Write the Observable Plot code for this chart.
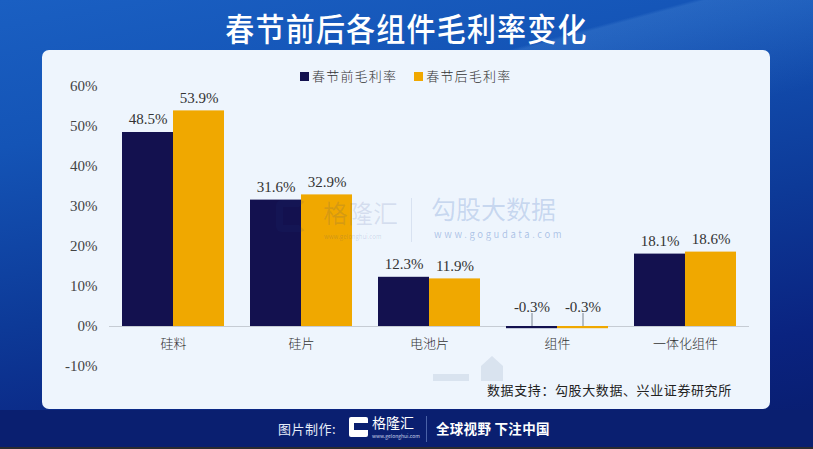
<!DOCTYPE html>
<html><head><meta charset="utf-8">
<script src="https://cdn.jsdelivr.net/npm/d3@7"></script>
<script src="https://cdn.jsdelivr.net/npm/@observablehq/plot@0.6"></script>
<style>
html,body{margin:0;padding:0;}
body{width:813px;height:449px;overflow:hidden;position:relative;font-family:"Noto Sans CJK SC",sans-serif;
background:linear-gradient(170deg,#1a5fc2 0%,#1454b6 25%,#0d3a98 55%,#0a2380 80%,#081c6c 100%);}
#streak{position:absolute;left:0;top:0;width:813px;height:120px;
background:linear-gradient(165deg,rgba(255,255,255,0) 0%,rgba(255,255,255,0) 55%,rgba(120,180,240,0.18) 56%,rgba(120,180,240,0.10) 70%,rgba(255,255,255,0) 90%);}
#title{position:absolute;left:0;width:813px;top:7px;text-align:center;color:#fff;font-size:29px;font-weight:500;letter-spacing:1.2px;line-height:40px;transform:scaleY(1.08);}
#panel{position:absolute;left:42px;top:50px;width:728px;height:359px;background:#eef5fd;border-radius:7px;overflow:hidden;}
#chart{position:absolute;left:0;top:0;}
#legend{position:absolute;top:66px;left:300px;font-size:13px;color:#333;letter-spacing:1.2px;white-space:nowrap;font-weight:300;}
#legend span.sw{display:inline-block;width:9px;height:9px;margin-right:3px;vertical-align:0px;}
#legend span.item{margin-right:17px;}
#source{position:absolute;left:487px;top:380px;font-size:13px;color:#222;letter-spacing:0.6px;white-space:nowrap;}
.wm{position:absolute;white-space:nowrap;line-height:1;}
#footer{position:absolute;left:0;top:410px;width:813px;height:37px;background:#0a1f70;}
#strip{position:absolute;left:0;top:447px;width:813px;height:2px;background:#2b2b30;}
#f1{position:absolute;left:278px;top:419px;color:#e6ecf8;font-size:13px;letter-spacing:0.5px;}
#logo{position:absolute;left:349px;top:417px;width:19px;height:20px;background:#fff;border-radius:2px;}
#logo2{position:absolute;left:354px;top:423px;width:14px;height:7px;background:#0a1f70;}
#f2{position:absolute;left:372px;top:414px;color:#fff;font-size:14px;line-height:16px;}
#f2u{position:absolute;left:372px;top:433px;color:#c8d2ea;font-size:5px;line-height:5px;}
#fsep{position:absolute;left:426px;top:416px;width:1px;height:26px;background:#4a62a8;}
#f3{position:absolute;left:436px;top:418px;color:#fff;font-size:13.5px;font-weight:700;letter-spacing:0.3px;}
</style></head><body>
<div id="streak"></div>
<div id="title">春节前后各组件毛利率变化</div>
<div id="panel">
  <div id="chart"></div>
  <div class="wm" style="left:234px;top:150px;width:30px;height:32px;border:7px solid rgba(30,60,140,0.10);border-right-color:transparent;border-radius:6px;box-sizing:border-box;"></div>
  <div class="wm" style="left:281px;top:150px;font-size:25px;color:rgba(30,60,140,0.12);">格隆汇</div>
  <div class="wm" style="left:282px;top:184px;font-size:6px;color:rgba(30,60,140,0.18);">www.gelonghui.com</div>
  <div class="wm" style="left:369px;top:148px;width:1px;height:44px;background:rgba(30,60,140,0.10);"></div>
  <div class="wm" style="left:389px;top:146px;font-size:25px;color:rgba(60,110,190,0.22);">勾股大数据</div>
  <div class="wm" style="left:392px;top:180px;font-size:9.5px;letter-spacing:2.6px;color:rgba(60,110,190,0.38);">www.gogudata.com</div>
  <div class="wm" style="left:391px;top:324px;width:36px;height:7px;background:rgba(40,70,120,0.10);"></div>
  <div class="wm" style="left:439px;top:306px;width:22px;height:25px;background:rgba(40,70,120,0.10);clip-path:polygon(50% 0,100% 40%,100% 100%,0 100%,0 40%);"></div>
</div>
<div id="legend"><span class="item"><span class="sw" style="background:#13114f"></span>春节前毛利率</span><span><span class="sw" style="background:#f0a800"></span>春节后毛利率</span></div>
<div id="source">数据支持：勾股大数据、兴业证券研究所</div>
<div id="footer"></div>
<div id="strip"></div>
<div id="f1">图片制作:</div>
<div id="logo"></div><div id="logo2"></div>
<div id="f2">格隆汇</div>
<div id="f2u">www.gelonghui.com</div>
<div id="fsep"></div>
<div id="f3">全球视野 下注中国</div>
<script>
const categories = ["硅料","硅片","电池片","组件","一体化组件"];
const series = ["春节前毛利率","春节后毛利率"];
const before = [48.5, 31.6, 12.3, -0.3, 18.1];
const after = [53.9, 32.9, 11.9, -0.3, 18.6];
const yTicks = [-10, 0, 10, 20, 30, 40, 50, 60];
const colors = ["#13114f", "#f0a800"];

const data = [];
categories.forEach((c, i) => {
  data.push({cat: c, s: series[0], v: before[i]});
  data.push({cat: c, s: series[1], v: after[i]});
});
const fmt = v => v.toFixed(1) + "%";
const pos = data.filter(d => d.v >= 0);
const neg = data.filter(d => d.v < 0);

const chart = Plot.plot({
  width: 728,
  height: 359,
  marginTop: 36,
  marginBottom: 43,
  marginLeft: 67,
  marginRight: 21,
  style: {background: "transparent", fontFamily: "'Liberation Serif', serif"},
  fx: {domain: categories, padding: 0, axis: null, label: null},
  x: {domain: series, paddingInner: 0, paddingOuter: 0.243, axis: null, label: null},
  y: {domain: [-10, 60], axis: null, label: null},
  color: {domain: series, range: colors},
  marks: [
    Plot.axisY({ticks: yTicks, tickFormat: d => d + "%", tickSize: 0, tickPadding: 12, fontSize: 15, fill: "#444", label: null, facetAnchor: "left", fontFamily: "'Liberation Serif', serif"}),
    Plot.ruleY([0], {stroke: "#c6ccd4", strokeWidth: 1.2}),
    Plot.barY(data, {fx: "cat", x: "s", y: "v", fill: "s"}),
    Plot.barY(neg, {fx: "cat", x: "s", y1: 0, y2: "v", fill: "s", insetBottom: -1}),
    Plot.text(pos, {fx: "cat", x: "s", y: "v", text: d => fmt(d.v), dy: -13, fontSize: 15, fill: "#333", fontFamily: "'Liberation Serif', serif"}),
    Plot.ruleX(neg, {fx: "cat", x: "s", y1: 0, y2: 0, insetTop: -13, stroke: "#7a8490", strokeWidth: 1}),
    Plot.text(neg, {fx: "cat", x: "s", y: 0, text: d => fmt(d.v), dy: -19, fontSize: 15, fill: "#333", fontFamily: "'Liberation Serif', serif"}),
    Plot.text(categories, {fx: d => d, y: 0, text: d => d, dy: 17, fontSize: 13, fill: "#333", fontWeight: 300, fontFamily: "'Noto Sans CJK SC', sans-serif", style: "letter-spacing:1.5px"})
  ]
});
document.getElementById("chart").appendChild(chart);
</script>
</body></html>
